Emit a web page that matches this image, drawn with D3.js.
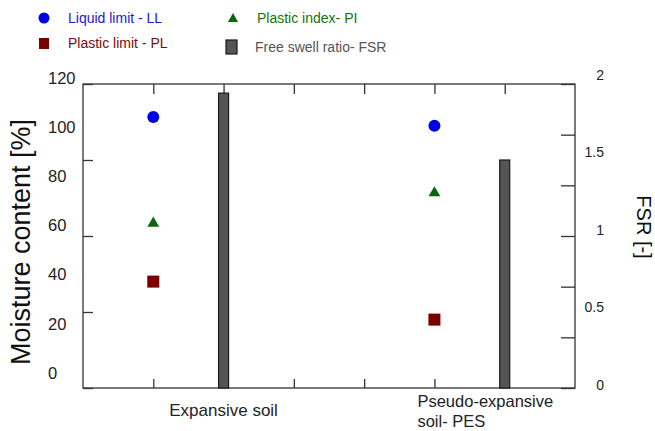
<!DOCTYPE html>
<html>
<head>
<meta charset="utf-8">
<script src="https://cdn.jsdelivr.net/npm/d3@7"></script>
<style>
  body { margin: 0; background: #fff; }
  text { font-family: "Liberation Sans", Arial, sans-serif; }
</style>
</head>
<body>
<script>
// values
const categories = ["Expansive soil", "Pseudo-expansive soil- PES"];
const liquidLimit = [107, 103.5];
const plasticLimit = [42, 27];
const plasticIndex = [65, 77];
const freeSwellRatio = [1.94, 1.5];
const leftTickLabels = [0, 20, 40, 60, 80, 100, 120];
const rightTickLabels = [0, 0.5, 1, 1.5, 2];

const W = 655, H = 431;
const plotLeft = 83, plotRight = 575, plotTop = 84, plotBottom = 388;

let appendSVG = (width, height) => {
    return d3.select('body')
        .append("svg")
        .attr("width", width)
        .attr("height", height)
}

let main = () => {
    let svg = appendSVG(W, H);

    let x = d3.scaleLinear().domain([0, 7]).range([plotLeft, plotRight]);
    let y = d3.scaleLinear().domain([0, 120]).range([plotBottom, plotTop]);
    let y2 = d3.scaleLinear().domain([0, 2]).range([plotBottom, plotTop]);
    // the tick labels in the original sit off the tick marks
    let yLabel = d3.scaleLinear().domain([0, 120]).range([373, 78]);
    let y2Label = d3.scaleLinear().domain([0, 2]).range([385, 75]);

    const markerX = 1, barX = 2, step = 4;

    // frame
    svg.append("rect")
        .attr("x", plotLeft).attr("y", plotTop)
        .attr("width", plotRight - plotLeft).attr("height", plotBottom - plotTop)
        .attr("fill", "none").attr("stroke", "#333").attr("stroke-width", 1.3);

    // inside ticks
    let tickStyle = g => {
        g.select(".domain").remove();
        g.selectAll("line").attr("stroke", "#333").attr("stroke-width", 1.3);
        g.selectAll("text").remove();
    }
    svg.append("g").attr("transform", `translate(${plotLeft},0)`)
        .call(d3.axisRight(y).tickValues([0, 30, 60, 90, 120]).tickSize(10)).call(tickStyle);
    svg.append("g").attr("transform", `translate(${plotRight},0)`)
        .call(d3.axisLeft(y2).tickValues(d3.range(7).map(i => i / 3)).tickSize(14)).call(tickStyle);
    let xt = d3.range(1, 7);
    svg.append("g").attr("transform", `translate(0,${plotBottom})`)
        .call(d3.axisTop(x).tickValues(xt).tickSize(9)).call(tickStyle);
    svg.append("g").attr("transform", `translate(0,${plotTop})`)
        .call(d3.axisBottom(x).tickValues(xt).tickSize(10)).call(tickStyle);

    // tick labels
    svg.selectAll(".ylab").data(leftTickLabels).enter().append("text")
        .attr("x", 48).attr("y", d => yLabel(d))
        .attr("dy", "0.35em").attr("font-size", 16.5).attr("fill", "#222")
        .text(d => d);
    svg.selectAll(".y2lab").data(rightTickLabels).enter().append("text")
        .attr("x", 604).attr("y", d => y2Label(d))
        .attr("dy", "0.35em").attr("text-anchor", "end").attr("font-size", 14).attr("fill", "#222")
        .text(d => d);

    // axis titles
    svg.append("text")
        .attr("transform", `translate(30,242) rotate(-90)`)
        .attr("text-anchor", "middle").attr("font-size", 27).attr("fill", "#111")
        .text("Moisture content [%]");
    svg.append("text")
        .attr("transform", `translate(637,227) rotate(90)`)
        .attr("text-anchor", "middle").attr("font-size", 20).attr("fill", "#111")
        .text("FSR [-]");

    // category labels
    svg.append("text")
        .attr("x", x(barX)).attr("y", 410).attr("dy", "0.35em")
        .attr("text-anchor", "middle").attr("font-size", 17).attr("fill", "#222")
        .text(categories[0]);
    let pes = svg.append("text")
        .attr("x", x(markerX + step) - 17).attr("y", 401).attr("dy", "0.35em")
        .attr("font-size", 16.5).attr("fill", "#222");
    pes.append("tspan").text("Pseudo-expansive");
    pes.append("tspan").attr("x", x(markerX + step) - 17).attr("dy", "1.25em").text("soil- PES");

    // FSR bars
    svg.selectAll(".bar").data(freeSwellRatio).enter().append("rect")
        .attr("x", (d, i) => x(barX + i * step) - 5)
        .attr("y", d => y2(d))
        .attr("width", 10)
        .attr("height", d => plotBottom - y2(d))
        .attr("fill", "#555").attr("stroke", "#1a1a1a").attr("stroke-width", 1.2);

    // markers
    svg.selectAll(".ll").data(liquidLimit).enter().append("circle")
        .attr("cx", (d, i) => x(markerX + i * step))
        .attr("cy", d => y(d))
        .attr("r", 6)
        .attr("fill", "#0000e6");
    svg.selectAll(".pl").data(plasticLimit).enter().append("rect")
        .attr("x", (d, i) => x(markerX + i * step) - 6)
        .attr("y", d => y(d) - 6)
        .attr("width", 12).attr("height", 12)
        .attr("fill", "#7a0000");
    let tri = d3.symbol().type(d3.symbolTriangle).size(60);
    svg.selectAll(".pi").data(plasticIndex).enter().append("path")
        .attr("d", tri)
        .attr("transform", (d, i) => `translate(${x(markerX + i * step)},${y(d)})`)
        .attr("fill", "#0b660b");

    // legend
    let leg = svg.append("g").attr("font-size", 14);
    leg.append("circle").attr("cx", 44).attr("cy", 18).attr("r", 5.5).attr("fill", "#0000e6");
    leg.append("text").attr("x", 68).attr("y", 18).attr("dy", "0.35em").attr("fill", "#1a1ad0").text("Liquid limit - LL");
    leg.append("rect").attr("x", 39).attr("y", 38).attr("width", 10).attr("height", 11).attr("fill", "#7a0000");
    leg.append("text").attr("x", 68).attr("y", 43).attr("dy", "0.35em").attr("fill", "#7a0a0a").text("Plastic limit - PL");
    leg.append("path").attr("d", d3.symbol().type(d3.symbolTriangle).size(45))
        .attr("transform", "translate(233,19)").attr("fill", "#0b660b");
    leg.append("text").attr("x", 257).attr("y", 18).attr("dy", "0.35em").attr("fill", "#137313").text("Plastic index- PI");
    leg.append("rect").attr("x", 226).attr("y", 40).attr("width", 11).attr("height", 14)
        .attr("fill", "#555").attr("stroke", "#1a1a1a").attr("stroke-width", 1.2);
    leg.append("text").attr("x", 255).attr("y", 47).attr("dy", "0.35em").attr("fill", "#555").text("Free swell ratio- FSR");
}

main()
</script>
</body>
</html>
